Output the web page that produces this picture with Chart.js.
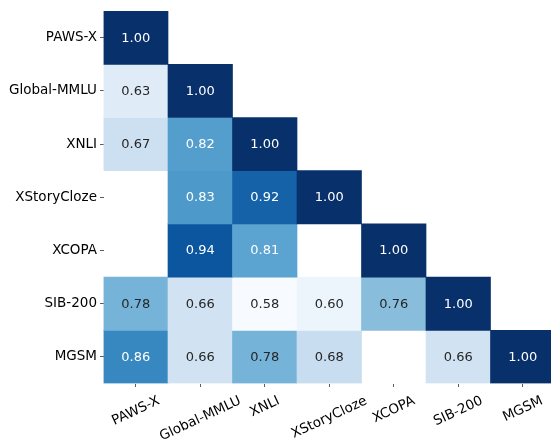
<!DOCTYPE html>
<html>
<head>
<meta charset="utf-8">
<script src="https://cdn.jsdelivr.net/npm/chart.js@4/dist/chart.umd.min.js"></script>
<style>
  html, body { margin: 0; padding: 0; background: #fff; overflow: hidden; }
  #wrap { width: 551px; height: 443px; overflow: hidden; position: relative; }
  canvas { display: block; }
</style>
</head>
<body>
<div id="wrap"><canvas id="c" width="556" height="443"></canvas></div>
<script>
// Benchmark names (rows top to bottom, columns left to right)
const benchmarks = ['PAWS-X', 'Global-MMLU', 'XNLI', 'XStoryCloze', 'XCOPA', 'SIB-200', 'MGSM'];

// Lower-triangle correlations, one array per row; null = no value
const rowPawsX       = [1.00, null, null, null, null, null, null];
const rowGlobalMMLU  = [0.63, 1.00, null, null, null, null, null];
const rowXNLI        = [0.67, 0.82, 1.00, null, null, null, null];
const rowXStoryCloze = [null, 0.83, 0.92, 1.00, null, null, null];
const rowXCOPA       = [null, 0.94, 0.81, null, 1.00, null, null];
const rowSIB200      = [0.78, 0.66, 0.58, 0.60, 0.76, 1.00, null];
const rowMGSM        = [0.86, 0.66, 0.78, 0.68, null, 0.66, 1.00];

const rows = [rowPawsX, rowGlobalMMLU, rowXNLI, rowXStoryCloze, rowXCOPA, rowSIB200, rowMGSM];

// Colour scale limits
const colorMin = 0.58;
const colorMax = 1.00;

// "Blues" sequential palette
const bluesStops = [
  [247,251,255],[222,235,247],[198,219,239],[158,202,225],[107,174,214],
  [66,146,198],[33,113,181],[8,81,156],[8,48,107]
];
function blues(t) {
  t = Math.max(0, Math.min(1, t));
  const pos = t * (bluesStops.length - 1);
  const i = Math.min(Math.floor(pos), bluesStops.length - 2);
  const f = pos - i;
  const a = bluesStops[i], b = bluesStops[i + 1];
  return [0, 1, 2].map(k => Math.round(a[k] + (b[k] - a[k]) * f));
}
function cellColor(v) {
  const c = blues((v - colorMin) / (colorMax - colorMin));
  return `rgb(${c[0]},${c[1]},${c[2]})`;
}
function luminance(v) {
  const c = blues((v - colorMin) / (colorMax - colorMin)).map(x => {
    x /= 255;
    return x <= 0.03928 ? x / 12.92 : Math.pow((x + 0.055) / 1.055, 2.4);
  });
  return 0.2126 * c[0] + 0.7152 * c[1] + 0.0722 * c[2];
}

const FONT = "'DejaVu Sans', sans-serif";
const labelSize = 13.5;
const annotSize = 13;
const tickLen = 3.5;
const xLabelAngle = 25 * Math.PI / 180;

const datasets = rows.map((vals, r) => ({
  label: benchmarks[r],
  data: vals.map(v => v == null ? null : [r - 0.5, r + 0.5]),
  values: vals,
  backgroundColor: vals.map(v => v == null ? 'rgba(0,0,0,0)' : cellColor(v)),
  borderWidth: 0,
  barPercentage: 1,
  categoryPercentage: 1,
  grouped: false
}));

// Value annotations in each cell + rotated column labels
const annotate = {
  id: 'annotate',
  afterDatasetsDraw(chart) {
    const ctx = chart.ctx;
    ctx.save();
    ctx.font = `${annotSize}px ${FONT}`;
    ctx.textAlign = 'center';
    ctx.textBaseline = 'middle';
    chart.data.datasets.forEach((ds, di) => {
      const meta = chart.getDatasetMeta(di);
      meta.data.forEach((bar, i) => {
        const v = ds.values[i];
        if (v == null) return;
        const p = bar.getProps(['x', 'y', 'base'], true);
        ctx.fillStyle = luminance(v) > 0.408 ? '#262626' : '#ffffff';
        ctx.fillText(v.toFixed(2), p.x, (p.y + p.base) / 2 + 0.5);
      });
    });
    ctx.restore();
  },
  afterDraw(chart) {
    const ctx = chart.ctx;
    const xs = chart.scales.x;
    ctx.save();
    ctx.font = `${labelSize}px ${FONT}`;
    ctx.fillStyle = '#000';
    ctx.textAlign = 'center';
    ctx.textBaseline = 'alphabetic';
    const capH = 0.73 * labelSize;
    const top = xs.top + tickLen + 7.5;
    benchmarks.forEach((lab, i) => {
      const x = xs.getPixelForTick(i);
      const w = ctx.measureText(lab).width;
      const H = w * Math.sin(xLabelAngle) + capH * Math.cos(xLabelAngle);
      ctx.save();
      ctx.translate(x - 0.5, top + H / 2);
      ctx.rotate(-xLabelAngle);
      ctx.fillText(lab, 0, capH / 2);
      ctx.restore();
    });
    ctx.restore();
  }
};

new Chart(document.getElementById('c'), {
  type: 'bar',
  data: { labels: benchmarks, datasets },
  options: {
    responsive: false,
    animation: false,
    devicePixelRatio: 1,
    layout: { padding: { top: 10, right: 1, bottom: 0, left: 0 } },
    plugins: { legend: { display: false }, tooltip: { enabled: false } },
    scales: {
      x: {
        type: 'category',
        offset: true,
        grid: { offset: false, drawOnChartArea: false, drawTicks: true, tickLength: tickLen, color: '#333', lineWidth: 0.8 },
        border: { display: false },
        ticks: { display: false },
        afterFit(s) { s.height = 59.5; }
      },
      y: {
        type: 'linear',
        reverse: true,
        min: -0.5,
        max: 6.5,
        afterBuildTicks(s) { s.ticks = benchmarks.map((_, i) => ({ value: i })); },
        grid: { drawOnChartArea: false, drawTicks: true, tickLength: tickLen, color: '#333', lineWidth: 0.8 },
        border: { display: false },
        ticks: {
          padding: 3,
          color: '#000',
          font: { family: FONT, size: labelSize },
          callback: (v) => benchmarks[v]
        },
        afterFit(s) { s.width = 103.5; }
      }
    }
  },
  plugins: [annotate]
});
</script>
</body>
</html>
